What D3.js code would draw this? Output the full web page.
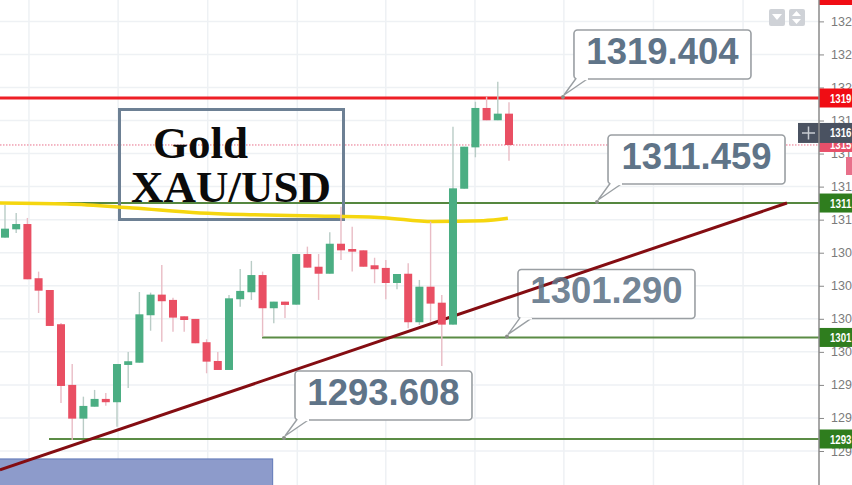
<!DOCTYPE html>
<html><head><meta charset="utf-8">
<script src="https://cdn.jsdelivr.net/npm/d3@7"></script>
<style>html,body{margin:0;padding:0;background:#fff;overflow:hidden}svg{display:block}</style>
</head><body><svg id="c" width="852" height="485"></svg>
<script>
// Candles, left to right
const opens  = [1308.84,1309.47,1309.87,1305.77,1304.88,1302.29,1297.70,1295.15,1296.05,1296.64,1296.39,1299.21,1299.38,1302.97,1304.53,1304.13,1302.89,1302.69,1300.93,1299.51,1298.83,1304.18,1304.71,1306.01,1303.50,1304.00,1303.77,1307.60,1306.64,1306.11,1308.38,1307.98,1307.88,1306.75,1306.55,1305.41,1306.11,1302.44,1305.13,1303.92,1302.26,1312.54,1315.67,1318.65,1317.72,1318.22];
const highs  = [1311.31,1310.71,1310.33,1306.27,1304.88,1302.39,1299.28,1296.81,1297.32,1297.09,1299.28,1300.19,1304.73,1304.68,1306.77,1304.30,1302.89,1302.69,1301.15,1300.19,1304.50,1306.47,1307.08,1306.27,1304.00,1304.00,1307.60,1308.16,1307.60,1309.25,1311.18,1309.67,1307.88,1307.32,1307.15,1306.09,1306.90,1305.64,1310.05,1304.50,1317.23,1315.72,1319.12,1319.50,1320.64,1319.08];
const lows   = [1308.84,1309.19,1305.69,1303.14,1302.16,1296.33,1293.53,1293.69,1296.05,1296.13,1294.54,1297.47,1299.38,1301.80,1300.97,1301.73,1301.73,1300.85,1298.58,1298.83,1298.83,1303.62,1304.13,1301.35,1302.36,1302.76,1303.77,1306.57,1304.13,1306.11,1307.15,1306.27,1306.64,1305.39,1304.18,1304.93,1301.99,1302.23,1302.49,1299.13,1302.26,1312.54,1314.92,1317.72,1317.72,1314.66];
const closes = [1309.52,1309.87,1305.69,1304.83,1302.16,1297.62,1295.15,1296.11,1296.64,1296.39,1299.28,1299.49,1303.04,1304.53,1304.03,1302.79,1302.61,1300.85,1299.46,1298.83,1304.25,1304.81,1306.01,1303.50,1304.00,1303.75,1307.60,1306.57,1306.11,1308.38,1307.88,1307.78,1306.64,1306.45,1305.41,1306.09,1302.44,1305.13,1303.85,1302.26,1312.57,1315.72,1318.65,1317.72,1318.22,1315.85];
// Moving average
const maIdx = [-0.45,5.54,11.43,17.41,21.9,27.86,33.75,38.2,42.7,44.9];
const maVal = [1311.46,1311.39,1311.08,1310.71,1310.58,1310.48,1310.35,1310.06,1310.12,1310.30];
// Trend line
const trendIdx = [-0.45,69.82];
const trendVal = [1291.27,1311.46];
// Horizontal levels
const levels = [1319.404,1311.459,1301.290,1293.608];
const levelStart = [-0.446,-0.446,22.95,3.93];
const levelLabels = ["1319.404","1311.459","1301.290","1293.608"];
const levelTags = ["1319","1311","1301","1293"];
const levelAnchor = [49.82,52.86,44.82,24.91];
const currentPrice = 1315.85;
const crossPrice = 1316.76;
// Axis: the labels are cut by the window edge in the reference, so only their visible digits are kept
const tickValues = [1325.2,1322.7,1320.2,1317.7,1315.2,1312.7,1310.2,1307.7,1305.2,1302.7,1300.2,1297.7,1295.2,1292.7];
const tickLabels = ["132","132","132","131","131","131","131","130","130","130","130","129","129","129"];
const gridIdx = [2.14,10.1,18.1,26.1,34.0,41.96,49.9,57.9,65.9];

const W=852,H=485,axisX=819;
const x=d3.scaleLinear().domain([-0.446,72.68]).range([0,axisX]);
const y=d3.scaleLinear().domain([1319.404,1293.608]).range([98,439]);
const svg=d3.select("#c");

// grid
svg.append("g").selectAll("line").data(tickValues).join("line")
 .attr("x1",0).attr("x2",axisX).attr("y1",d=>y(d)).attr("y2",d=>y(d)).attr("stroke","#eef1f4").attr("stroke-width",1.5);
svg.append("g").selectAll("line").data(gridIdx).join("line")
 .attr("x1",d=>x(d)).attr("x2",d=>x(d)).attr("y1",0).attr("y2",H).attr("stroke","#eef1f4").attr("stroke-width",1.5);

// blue box
svg.append("rect").attr("x",-2).attr("y",y(1292.1)).attr("width",x(23.9)+2).attr("height",40)
 .attr("fill","#8d9bcb").attr("stroke","#5f78b8").attr("stroke-width",1);

// current price dotted
svg.append("line").attr("x1",0).attr("x2",axisX).attr("y1",y(currentPrice)).attr("y2",y(currentPrice))
 .attr("stroke","#e8708a").attr("stroke-width",1).attr("stroke-dasharray","1.5 1.5");

// callout bodies
const callG=svg.append("g");
levels.forEach((v,i)=>{
  const ax=x(levelAnchor[i]),ay=y(v),bx=ax+11,by=ay-68,bw=177,bh=49;
  const g=callG.append("g");
  g.append("rect").attr("x",bx).attr("y",by).attr("width",bw).attr("height",bh).attr("rx",3.5)
   .attr("fill","#fff").attr("stroke","#9a9fa3").attr("stroke-width",1.6);
  g.append("path").attr("d",`M${bx+2},${by+bh-0.5}L${ax+1},${ay-3}L${bx+14},${by+bh-0.5}`)
   .attr("fill","#fff").attr("stroke","#9a9fa3").attr("stroke-width",1.4);
  g.append("line").attr("x1",bx+3).attr("x2",bx+14).attr("y1",by+bh).attr("y2",by+bh).attr("stroke","#fff").attr("stroke-width",2.2);
});

// levels
const levelColors=["#ee1f26","#55873f","#5b8c45","#5b8c45"];
const levelWidths=[3,2,2,2];
svg.append("g").selectAll("line").data(levels).join("line")
 .attr("x1",(d,i)=>x(levelStart[i])).attr("x2",axisX).attr("y1",d=>y(d)).attr("y2",d=>y(d))
 .attr("stroke",(d,i)=>levelColors[i]).attr("stroke-width",(d,i)=>levelWidths[i]);
svg.append("g").selectAll("circle").data(levels).join("circle")
 .attr("cx",(d,i)=>x(levelAnchor[i])).attr("cy",d=>y(d)-1).attr("r",2).attr("fill","#8a9088");

// gold box
svg.append("rect").attr("x",119.5).attr("y",109.5).attr("width",224).attr("height",110)
 .attr("fill","none").attr("stroke","#6d8094").attr("stroke-width",3);

// trend
svg.append("line").attr("x1",x(trendIdx[0])).attr("x2",x(trendIdx[1])).attr("y1",y(trendVal[0])).attr("y2",y(trendVal[1]))
 .attr("stroke","#840d12").attr("stroke-width",3);

// MA
svg.append("path").datum(maIdx.map((d,i)=>[d,maVal[i]]))
 .attr("d",d3.line().x(d=>x(d[0])).y(d=>y(d[1])).curve(d3.curveMonotoneX))
 .attr("fill","none").attr("stroke","#f5d60f").attr("stroke-width",3.5);

// candles
const idx=d3.range(opens.length);
const up=i=>closes[i]>=opens[i];
svg.append("g").selectAll("line").data(idx).join("line")
 .attr("x1",i=>x(i)).attr("x2",i=>x(i)).attr("y1",i=>y(highs[i])).attr("y2",i=>y(lows[i]))
 .attr("stroke",i=>up(i)?"#b9ccc6":"#e9bcc5").attr("stroke-width",1.4);
svg.append("g").selectAll("rect").data(idx).join("rect")
 .attr("x",i=>x(i)-4).attr("width",8)
 .attr("y",i=>y(Math.max(opens[i],closes[i])))
 .attr("height",i=>Math.max(2,Math.abs(y(opens[i])-y(closes[i]))))
 .attr("fill",i=>up(i)?"#4bae83":"#e94f63");

// callout text (above the trend line)
levels.forEach((v,i)=>{
  svg.append("text").attr("x",x(levelAnchor[i])+11+88.5).attr("y",y(v)-34).attr("text-anchor","middle")
   .attr("font-family","'Liberation Sans',Arial,sans-serif").attr("font-weight","bold").attr("font-size",36.5)
   .attr("fill","#5f7488").attr("fill-opacity",i==2?0.9:1).text(levelLabels[i]);
});
// title
const serif="'Liberation Serif','Times New Roman',serif";
svg.append("text").attr("x",153).attr("y",158).attr("font-family",serif).attr("font-weight","bold").attr("font-size",45).attr("fill","#0b0b0b").text("Gold");
svg.append("text").attr("x",131).attr("y",202).attr("font-family",serif).attr("font-weight","bold").attr("font-size",45).attr("fill","#0b0b0b").text("XAU/USD");

// axis
const axis=d3.axisRight(y).tickValues(tickValues).tickFormat((d,i)=>tickLabels[i]).tickSize(5).tickPadding(7);
const ag=svg.append("g").attr("transform",`translate(${axisX},0)`).call(axis);
ag.select(".domain").remove();
ag.selectAll("line").attr("stroke","#888");
ag.selectAll("text").attr("font-family","'Liberation Sans',Arial,sans-serif").attr("font-size",12.5).attr("fill","#7b7b7b");
svg.append("rect").attr("x",axisX).attr("y",0).attr("width",33).attr("height",5).attr("fill","#f00d14");

// price tags
function tag(v,col,h,label){
  const g=svg.append("g");
  g.append("rect").attr("x",axisX).attr("y",y(v)-h/2).attr("width",33).attr("height",h).attr("fill",col);
  g.append("text").attr("x",830).attr("y",y(v)+4.5).attr("font-family","'Liberation Sans',Arial,sans-serif")
   .attr("font-weight","bold").attr("font-size",12.5).attr("textLength",21.5).attr("lengthAdjust","spacingAndGlyphs")
   .attr("fill","#fff").text(label);
}
tag(currentPrice,"#e8506a",14,"1315");
svg.append("rect").attr("x",846).attr("y",157).attr("width",6).attr("height",18).attr("fill","#e8708a");
levels.forEach((v,i)=>tag(v,i==0?"#f00d14":"#2f7d1e",19,levelTags[i]));
svg.append("rect").attr("x",798).attr("y",y(crossPrice)-10).attr("width",21).attr("height",20).attr("fill","#4a5261");
tag(crossPrice,"#4a5261",20,"1316");
svg.append("path").attr("d",`M802,${y(crossPrice)}h13M808.5,${y(crossPrice)-6.5}v13`).attr("stroke","#c8ccd2").attr("stroke-width",1.5);

// axis line
svg.append("line").attr("x1",axisX).attr("x2",axisX).attr("y1",0).attr("y2",H).attr("stroke","#8a8a8a").attr("stroke-width",1.5);

// top buttons
[769,789].forEach((bx,i)=>{
  svg.append("rect").attr("x",bx).attr("y",9).attr("width",16).attr("height",17).attr("rx",2).attr("fill","#cfd2d7");
  if(i==0) svg.append("path").attr("d",`M${bx+3},14h10l-5,6z`).attr("fill","#fff");
  else svg.append("path").attr("d",`M${bx+3},16h9l-4.5,-5zM${bx+3},19h9l-4.5,5z`).attr("fill","#fff");
});
</script></body></html>
